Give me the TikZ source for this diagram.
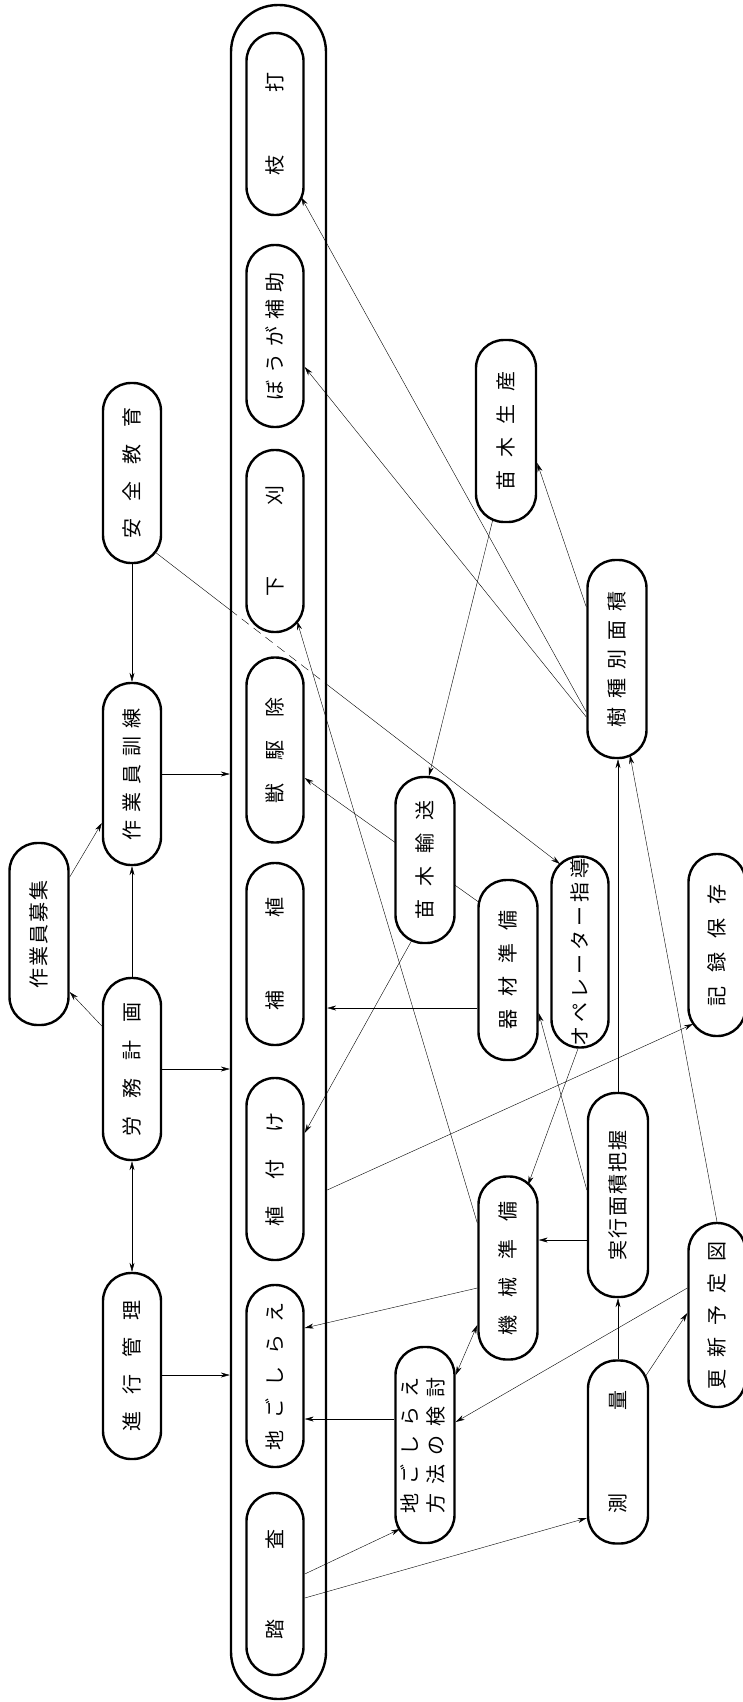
\documentclass[tikz,border=0pt]{standalone}
\usepackage{fontspec}
\usepackage{graphicx}
\newfontfamily\jpfont{Noto Sans CJK JP}
\usetikzlibrary{backgrounds, calc, arrows.meta}
\newcommand{\gp}[1]{\hspace*{#1pt}}
\newcommand{\vt}[1]{\rotatebox{90}{#1}}

\begin{document}
\begin{tikzpicture}[x=1pt, y=-1pt, ->, >={Stealth[length=9pt,width=5pt]}, line width=1.4pt]
%====Stile dei nodi===============================================================
	\tikzstyle{fase}=[draw, line width=2.4pt, fill=white, rounded corners=28pt, minimum width=58pt, minimum height=182pt, inner sep=0pt, font=\jpfont\fontsize{20}{26}\selectfont]
	\tikzstyle{cornice}=[draw, line width=2.4pt, rounded corners=47pt, minimum width=95pt, minimum height=1694pt, inner sep=0pt]
\useasboundingbox (0,0) rectangle (743,1702);
%====Colonna dei lavori===============================================================
	\node[cornice]		(outer)		at (278.5,852)		{};
	\node[fase, minimum width=57pt]		(eda)		at (275,124)		{\vt{枝\gp{63}打}};
	\node[fase, minimum width=57pt]		(bouga)		at (275,336)		{\vt{ぼ\gp{7}う\gp{7}が\gp{7}補\gp{7}助}};
	\node[fase, minimum width=57pt]		(shitakari)	at (275,541)		{\vt{下\gp{71}刈}};
	\node[fase, minimum width=57pt, minimum height=185pt]	(juu)	at (275,750)	{\vt{獣\gp{23}駆\gp{23}除}};
	\node[fase, minimum width=57pt]		(hoshoku)	at (275,954)		{\vt{補\gp{73}植}};
	\node[fase, minimum width=57pt]		(uetsuke)	at (275,1169)		{\vt{植\gp{27}付\gp{27}け}};
	\node[fase, minimum width=57pt]		(jigo)		at (275,1376)		{\vt{地\gp{12}ご\gp{12}し\gp{12}ら\gp{12}え}};
	\node[fase, minimum width=57pt]		(tousa)		at (275,1584)		{\vt{踏\gp{70}査}};
%====Pianificazione===============================================================
	\node[fase, minimum height=180pt]	(anzen)		at (132,473)		{\vt{安\gp{17}全\gp{17}教\gp{17}育}};
	\node[fase]		(kunren)	at (132,774)		{\vt{作\gp{8}業\gp{8}員\gp{8}訓\gp{8}練}};
	\node[fase]		(roumu)		at (132,1069)		{\vt{労\gp{18}務\gp{18}計\gp{18}画}};
	\node[fase, minimum height=186pt]	(shinkou)	at (132,1366)		{\vt{進\gp{17}行\gp{17}管\gp{17}理}};
	\node[fase, minimum width=59pt]		(boshuu)	at (39,934)		{\vt{作\gp{2}業\gp{2}員\gp{2}募\gp{2}集}};
%====Preparazione===============================================================
	\node[fase, minimum width=59pt, minimum height=166pt]	(naeyusou)	at (425,860)	{\vt{苗\gp{13}木\gp{13}輸\gp{13}送}};
	\node[fase, minimum width=59pt, minimum height=196pt]	(kentou)	at (425,1445)	{\vt{\begin{tabular}{@{}c@{}}地\gp{9}ご\gp{9}し\gp{9}ら\gp{9}え\\方\gp{9}法\gp{9}の\gp{9}検\gp{9}討\end{tabular}}};
	\node[fase, minimum width=59pt, minimum height=180pt]	(kizai)		at (508,970)	{\vt{器\gp{13}材\gp{13}準\gp{13}備}};
	\node[fase, minimum width=59pt, minimum height=183pt]	(kikai)		at (508,1268)	{\vt{機\gp{18}械\gp{18}準\gp{18}備}};
	\node[fase, minimum width=57pt, minimum height=191pt]	(ope)		at (580,952)	{\vt{オ\gp{4}ペ\gp{4}レ\gp{4}ー\gp{4}タ\gp{4}ー\gp{4}指\gp{4}導}};
	\node[fase, minimum width=60pt]		(naeseisan)	at (506,431)	{\vt{苗\gp{13}木\gp{13}生\gp{13}産}};
	\node[fase, minimum width=59pt, minimum height=198pt]	(jushu)		at (617,659)	{\vt{樹\gp{9}種\gp{9}別\gp{9}面\gp{9}積}};
	\node[fase, minimum width=60pt, minimum height=204pt]	(jikkou)	at (618,1195)	{\vt{実\gp{2}行\gp{2}面\gp{2}積\gp{2}把\gp{2}握}};
	\node[fase, minimum width=60pt, minimum height=183pt]	(sokuryou)	at (618,1452)	{\vt{測\gp{83}量}};
	\node[fase, minimum width=57pt]		(kiroku)	at (717,945)	{\vt{記\gp{14}録\gp{14}保\gp{14}存}};
	\node[fase, minimum width=57pt, minimum height=184pt]	(koushin)	at (717,1315)	{\vt{更\gp{12}新\gp{12}予\gp{12}定\gp{12}図}};
%====Collegamenti===============================================================
\begin{pgfonlayer}{background}
	\fill[white, -] (0,0) rectangle (743,1702);
	\coordinate (s1) at ($(anzen)+(23,79)$);
	\coordinate (s2) at ($(ope)+(-20,-88)$);
	\coordinate (d1) at (intersection of s1--s2 and outer.north west--outer.south west);
	\coordinate (d2) at (intersection of s1--s2 and outer.north east--outer.south east);
	%from     					to
	\draw	($(jushu.west)+(0,53)$)		--	($(eda)+(26,73)$);
	\draw	($(jushu.west)+(0,58)$)		--	($(bouga.east)+(0,31)$);
	\draw	($(jushu.west)+(0,-52)$)	--	($(naeseisan.east)+(0,32)$);
	\draw	($(naeseisan)+(-13,88)$)	--	($(naeyusou.north)+(4,0)$);
	\draw	(anzen.south)			--	(kunren.north);
	\draw[-]	(s1)				--	(d1);
	\draw[-, dashed, dash pattern=on 9pt off 6pt]	(d1)	--	(d2);
	\draw	(d2)				--	(s2);
	\draw	(kunren.east)			--	(kunren.east -| outer.west);
	\draw	($(kizai)+(-28,-67)$)		--	($(juu.east)+(0,28)$);
	\draw	($(naeyusou)+(-13,80)$)		--	($(uetsuke.east)+(0,-36)$);
	\draw	($(kizai.west)+(0,38)$)		--	($(kizai.west -| outer.east)+(0,38)$);
	\draw	(roumu.east)			--	(roumu.east -| outer.west);
	\draw	(roumu.north)			--	(kunren.south);
	\draw	($(roumu.west)+(0,-43)$)	--	($(boshuu.east)+(0,58)$);
	\draw	($(boshuu.east)+(0,-57)$)	--	($(kunren.west)+(0,49)$);
	\draw[<->]	(roumu.south)			--	(shinkou.north);
	\draw	($(shinkou.east)+(0,9)$)	--	($(shinkou.east -| outer.west)+(0,9)$);
	\draw	($(uetsuke.east -| outer.east)+(0,21)$)	--	($(kiroku)+(-24,79)$);
	\draw	($(ope.south)+(-2,0)$)		--	($(kikai)+(20,-83)$);
	\draw	($(jikkou.west)+(0,45)$)	--	($(jikkou.west -| kikai.east)+(0,45)$);
	\draw	($(jikkou.west)+(0,-5)$)	--	($(kizai.east)+(0,43)$);
	\draw	(jikkou.north)			--	(jikkou.north |- jushu.south);
	\draw	(koushin.north)			--	($(jushu)+(13,96)$);
	\draw	($(kikai.west)+(0,20)$)		--	($(jigo.east)+(0,-48)$);
	\draw	($(kikai.west)+(0,-45)$)	--	($(shitakari)+(22,80)$);
	\draw[<->]	($(kikai.west)+(0,57)$)	--	($(kentou.east)+(0,-70)$);
	\draw	($(kentou.west)+(0,-26)$)	--	($(kentou.west -| jigo.east)+(0,-26)$);
	\draw	($(koushin.west)+(0,-27)$)	--	($(kentou.east)+(0,-23)$);
	\draw	(sokuryou.north)		--	(jikkou.south);
	\draw	($(sokuryou)+(27,-75)$)		--	($(koushin.west)+(0,-2)$);
	\draw	($(tousa.east)+(0,-10)$)	--	($(kentou)+(-25,84)$);
	\draw	($(tousa.east)+(0,14)$)		--	($(sokuryou.west)+(0,66)$);
\end{pgfonlayer}
\end{tikzpicture}
\end{document}
